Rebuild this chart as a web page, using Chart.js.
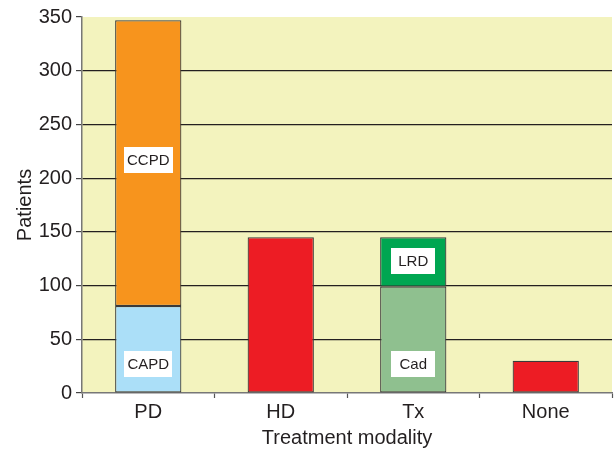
<!DOCTYPE html>
<html>
<head>
<meta charset="utf-8">
<script src="https://cdn.jsdelivr.net/npm/chart.js@4/dist/chart.umd.min.js"></script>
<style>
  html, body { margin: 0; padding: 0; background: #fff; }
  #wrap { width: 615px; height: 450px; }
</style>
</head>
<body>
<div id="wrap"><canvas id="modalityChart" width="615" height="450"></canvas></div>
<script>
(function(){
  const categories = ['PD', 'HD', 'Tx', 'None'];
  // lower segment: CAPD under PD, Cad under Tx; HD and None are single bars
  const lowerValues = [81, 145, 99, 30];
  const upperValues = [266, null, 46, null];   // CCPD (total 347), LRD (total 145)
  const lowerNames = ['CAPD', null, 'Cad', null];
  const upperNames = ['CCPD', null, 'LRD', null];
  // where the name boxes sit, in patients
  const lowerNameAt = [27, null, 27, null];
  const upperNameAt = [217, null, 123, null];
  const yTicks = [0, 50, 100, 150, 200, 250, 300, 350];

  const lowerColors = ['#abdff8', '#ed1c24', '#8fc08f', '#ed1c24'];
  const upperColors = ['#f7941d', '#f7941d', '#00a651', '#00a651'];
  const fontFamily = '"Liberation Sans", Arial, sans-serif';
  const ink = '#231f20';

  const plotBackground = {
    id: 'plotBackground',
    beforeDraw(chart) {
      const { ctx, chartArea: a } = chart;
      ctx.save();
      ctx.fillStyle = '#f3f3be';
      ctx.fillRect(a.left, a.top, a.right - a.left, a.bottom - a.top);
      ctx.restore();
    }
  };

  const segmentNames = {
    id: 'segmentNames',
    afterDatasetsDraw(chart) {
      const { ctx, scales } = chart;
      ctx.save();
      ctx.font = '15px ' + fontFamily;
      ctx.textAlign = 'center';
      ctx.textBaseline = 'middle';
      const put = (names, at) => {
        names.forEach((name, i) => {
          if (!name) return;
          const x = scales.x.getPixelForValue(i);
          const y = scales.y.getPixelForValue(at[i]);
          const w = Math.max(ctx.measureText(name).width + 6, 44);
          const h = 26;
          ctx.fillStyle = '#fff';
          ctx.fillRect(Math.round(x - w / 2), Math.round(y - h / 2), Math.round(w), h);
          ctx.fillStyle = ink;
          ctx.fillText(name, x, y + 1);
        });
      };
      put(lowerNames, lowerNameAt);
      put(upperNames, upperNameAt);
      ctx.restore();
    }
  };

  new Chart(document.getElementById('modalityChart'), {
    type: 'bar',
    data: {
      labels: categories,
      datasets: [
        {
          label: 'lower',
          data: lowerValues,
          backgroundColor: lowerColors,
          borderColor: '#3a3a3a',
          borderWidth: 1.2,
          borderSkipped: false,
          stack: 'patients'
        },
        {
          label: 'upper',
          data: upperValues,
          backgroundColor: upperColors,
          borderColor: '#3a3a3a',
          borderWidth: 1.2,
          borderSkipped: false,
          stack: 'patients'
        }
      ]
    },
    options: {
      responsive: false,
      animation: false,
      devicePixelRatio: 1,
      layout: { padding: { left: 13, right: 3, top: 17, bottom: 0 } },
      datasets: { bar: { categoryPercentage: 1, barPercentage: 0.5 } },
      plugins: {
        legend: { display: false },
        tooltip: { enabled: false }
      },
      scales: {
        x: {
          stacked: true,
          grid: {
            offset: true,
            drawOnChartArea: false,
            drawTicks: true,
            tickLength: 5,
            tickColor: '#555',
            tickWidth: 1.2
          },
          border: { color: '#777', width: 1.5 },
          ticks: { color: ink, font: { family: fontFamily, size: 20 }, padding: 2 },
          title: {
            display: true,
            text: 'Treatment modality',
            color: ink,
            font: { family: fontFamily, size: 20 },
            padding: { top: 0, bottom: 0 }
          }
        },
        y: {
          stacked: true,
          min: 0,
          max: 350,
          afterBuildTicks: (scale) => { scale.ticks = yTicks.map(v => ({ value: v })); },
          afterFit: (scale) => { scale.width = 69; },
          grid: {
            color: (c) => (c.tick && (c.tick.value === 0 || c.tick.value === 350)) ? 'rgba(0,0,0,0)' : ink,
            lineWidth: 1.2,
            tickColor: '#444',
            tickLength: 6,
            tickWidth: 1.2
          },
          border: { color: '#777', width: 1.5 },
          ticks: { color: ink, font: { family: fontFamily, size: 20 }, padding: 4 },
          title: {
            display: true,
            text: 'Patients',
            color: ink,
            font: { family: fontFamily, size: 20 },
            padding: { top: 0, bottom: 0 }
          }
        }
      }
    },
    plugins: [plotBackground, segmentNames]
  });
})();
</script>
</body>
</html>
